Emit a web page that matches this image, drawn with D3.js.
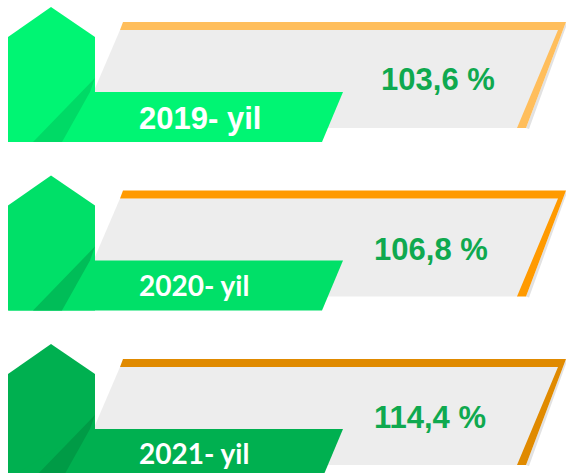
<!DOCTYPE html>
<html>
<head>
<meta charset="utf-8">
<script src="https://cdn.jsdelivr.net/npm/d3@7/dist/d3.min.js"></script>
<style>
  html, body { margin: 0; padding: 0; background: #ffffff; }
  svg { display: block; }
</style>
</head>
<body>
<svg id="chart" width="566" height="473"></svg>
<script>
// ---- data ----
const years = ["2019- yil", "2020- yil", "2021- yil"];
const values = [103.6, 106.8, 114.4];

// ---- styles ----
const mainGreen = ["#00F573", "#00E068", "#00B050"];
const wedgeGreen = ["#00DA66", "#00BD58", "#009B46"];
const orange = ["#FFBE5C", "#FF9A00", "#E08A00"];
const labelFont = ["'Liberation Sans', Arial, sans-serif", "Lato, sans-serif", "Lato, sans-serif"];
const labelSize = [31, 28, 28];
const labelDy = [0, -2, -2];
const valueX = [438, 431, 430];

const locale = d3.formatLocale({decimal: ",", thousands: " ", grouping: [3], currency: ["", ""]});
const fmt = locale.format(".1f");

const svg = d3.select("#chart");
const yOff = d3.scalePoint().domain(years).range([0, 337]);

const line = d3.line();

years.forEach((yr, i) => {
  const g = svg.append("g").attr("transform", `translate(0,${yOff(yr)})`);

  // faint shadow along right orange edge
  g.append("path")
    .attr("d", line([[567, 24], [529, 129], [526, 128], [566, 22]]) + "Z")
    .attr("fill", "#e2e2e2");

  // gray parallelogram
  g.append("path")
    .attr("d", line([[120, 30], [559, 30], [518, 128], [78, 128]]) + "Z")
    .attr("fill", "#EDEDED");

  // orange border (top + right)
  g.append("path")
    .attr("d", line([[123, 22], [566, 22], [526, 128], [517, 128], [558, 30], [120, 30]]) + "Z")
    .attr("fill", orange[i]);

  // pentagon / house shape
  g.append("path")
    .attr("d", line([[8, 37], [51, 7], [95, 37], [95, 142], [8, 142]]) + "Z")
    .attr("fill", mainGreen[i]);

  // banner
  g.append("path")
    .attr("d", line([[88, 92], [343, 92], [322, 142], [8, 142]]) + "Z")
    .attr("fill", mainGreen[i]);

  // darker wedge
  g.append("path")
    .attr("d", line([[95, 78], [33, 142], [62, 142], [90, 92]]) + "Z")
    .attr("fill", wedgeGreen[i]);

  // year label
  g.append("text")
    .attr("x", 139)
    .attr("y", 129 + labelDy[i])
    .attr("fill", "#ffffff")
    .attr("font-family", labelFont[i])
    .attr("font-weight", "bold")
    .attr("font-size", labelSize[i])
    .text(yr);

  // value label
  g.append("text")
    .attr("x", valueX[i])
    .attr("y", 90 + (i === 0 ? 0 : 1))
    .attr("text-anchor", "middle")
    .attr("fill", "#0FA94F")
    .attr("font-family", "'Liberation Sans', Arial, sans-serif")
    .attr("font-weight", "bold")
    .attr("font-size", 31)
    .text(fmt(values[i]) + " %");
});
</script>
</body>
</html>
